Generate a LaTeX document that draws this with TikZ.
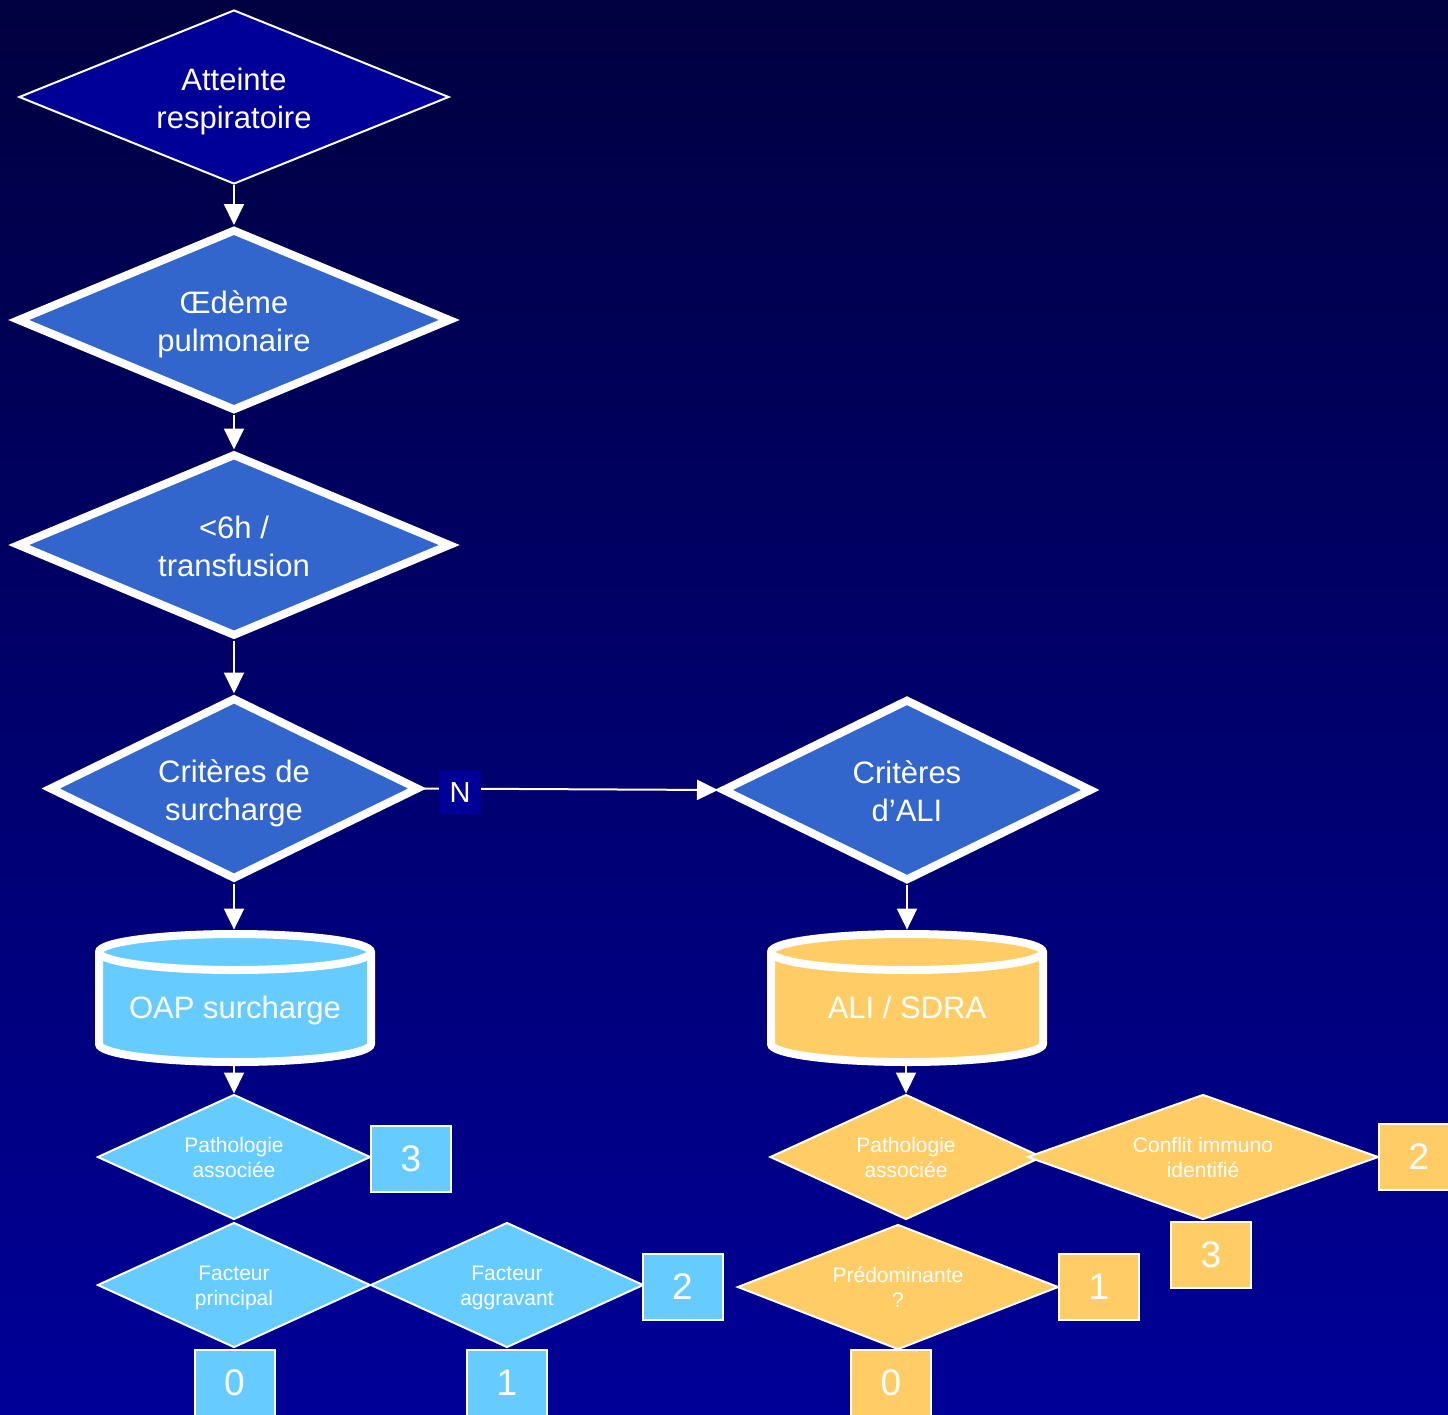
\documentclass[tikz,border=0pt]{standalone}
\usepackage{fontspec}
\setmainfont{Liberation Sans}
\usetikzlibrary{shapes.geometric,arrows.meta}
\definecolor{navy}{RGB}{0,0,153}
\definecolor{midblue}{RGB}{51,102,204}
\definecolor{lightblue}{RGB}{102,204,255}
\definecolor{gold}{RGB}{255,204,102}
\definecolor{bgtop}{RGB}{0,0,64}
\definecolor{bgbot}{RGB}{0,0,152}
\begin{document}
\begin{tikzpicture}[x=0.5pt,y=-0.5pt,
  every node/.style={text=white},
  bigtext/.style={font=\fontsize{15.5pt}{19pt}\selectfont, align=center, text height=33pt, text depth=1.5pt},
  smalltext/.style={font=\fontsize{10.5pt}{12.5pt}\selectfont, align=center, text height=22pt, text depth=1.5pt},
  topdia/.style={diamond, aspect=2.5, inner sep=0pt, draw=white, line width=1pt, fill=navy, bigtext},
  thickdia/.style={diamond, aspect=2.5, inner sep=0pt, draw=white, line width=4pt, fill=midblue, bigtext},
  thindia/.style={diamond, aspect=2.5, inner sep=0pt, draw=white, line width=1pt, smalltext, minimum height=62.5pt},
  bluedia/.style={thindia, fill=lightblue},
  golddia/.style={thindia, fill=gold},
  scorebox/.style={rectangle, draw=white, line width=1pt, minimum width=40pt, minimum height=33pt, inner sep=0pt, font=\fontsize{18.5pt}{22pt}\selectfont},
  bluebox/.style={scorebox, fill=lightblue},
  goldbox/.style={scorebox, fill=gold},
  arrow/.style={draw=white, line width=1pt, -{Triangle[width=10pt,length=10.5pt]}},
  canbody/.style={draw=white, line width=4pt},
  canlabel/.style={rectangle, inner sep=0pt, minimum width=140pt, minimum height=67.5pt, text height=25pt, text depth=4.5pt, font=\fontsize{15.5pt}{19pt}\selectfont},
  nbox/.style={rectangle, fill=navy, inner sep=0pt, minimum width=21pt, minimum height=21.5pt, font=\fontsize{14.5pt}{17pt}\selectfont}
]
\useasboundingbox (0,0) rectangle (1448,1415);
\fill[top color=bgtop, bottom color=bgbot] (0,0) rectangle (1448,1415);

% main chain
\node[topdia, minimum width=215pt, minimum height=87pt] (d1) at (234,97) {Atteinte\\respiratoire};
\node[thickdia, minimum width=217pt, minimum height=91pt] (d2) at (234,320) {Œdème\\pulmonaire};
\node[thickdia, minimum width=217pt, minimum height=91.5pt] (d3) at (234,545) {<6h /\\transfusion};
\node[thickdia, minimum width=185pt, minimum height=91pt] (d4) at (234,788.5) {Critères de\\surcharge};
\node[thickdia, minimum width=185pt, minimum height=91pt] (d5) at (907,790) {Critères\\d’ALI};

% cylinders
\begin{scope}[shift={(235,997.5)}]
  \path[canbody, fill=lightblue] (-136,-45.5) -- (-136,46.5)
    arc[start angle=180, end angle=360, x radius=68pt, y radius=9pt] -- (136,-45.5)
    arc[start angle=0, end angle=180, x radius=68pt, y radius=9pt] -- cycle;
  \draw[canbody] (-136,-45.5) arc[start angle=180, end angle=360, x radius=68pt, y radius=9pt];
\end{scope}
\node[canlabel] (oap) at (235,997.5) {OAP surcharge};
\begin{scope}[shift={(907,997.5)}]
  \path[canbody, fill=gold] (-136,-45.5) -- (-136,46.5)
    arc[start angle=180, end angle=360, x radius=68pt, y radius=9pt] -- (136,-45.5)
    arc[start angle=0, end angle=180, x radius=68pt, y radius=9pt] -- cycle;
  \draw[canbody] (-136,-45.5) arc[start angle=180, end angle=360, x radius=68pt, y radius=9pt];
\end{scope}
\node[canlabel] (ali) at (907,997.5) {ALI / SDRA};

% blue scoring
\node[bluedia, minimum width=136.5pt] (pa1) at (234,1157) {Pathologie\\associée};
\node[bluedia, minimum width=136.5pt] (fp) at (234,1285) {Facteur\\principal};
\node[bluedia, minimum width=136.5pt] (fa) at (507,1285) {Facteur\\aggravant};
\node[bluebox] (b3) at (411,1159) {3};
\node[bluebox] (b2) at (682.5,1287) {2};
\node[bluebox] (b0) at (234.5,1383) {0};
\node[bluebox] (b1) at (507,1383) {1};

% gold scoring
\node[golddia, minimum width=136pt] (pa2) at (906,1157) {Pathologie\\associée};
\node[golddia, minimum width=175.5pt] (ci) at (1203,1157) {Conflit immuno\\identifié};
\node[golddia, minimum width=160.5pt] (pr) at (898,1287) {Prédominante\\?};
\node[goldbox] (o2) at (1419,1157) {2};
\node[goldbox] (o3) at (1211,1255) {3};
\node[goldbox] (o1) at (1099,1287) {1};
\node[goldbox] (o0) at (891,1383) {0};

% connectors
\draw[arrow] (d1.south) -- (d2.north);
\draw[arrow] (d2.south) -- (d3.north);
\draw[arrow] (d3.south) -- (d4.north);
\draw[arrow] (d4.east) -- node[nbox, pos=0.126, yshift=-2pt] (nl) {N} (d5.west);
\draw[arrow] (d4.south) -- (d4.south |- oap.north);
\draw[arrow] (d5.south) -- (d5.south |- ali.north);
\draw[arrow] (oap.south -| pa1.north) -- (pa1.north);
\draw[arrow] (ali.south -| pa2.north) -- (pa2.north);
\end{tikzpicture}
\end{document}
